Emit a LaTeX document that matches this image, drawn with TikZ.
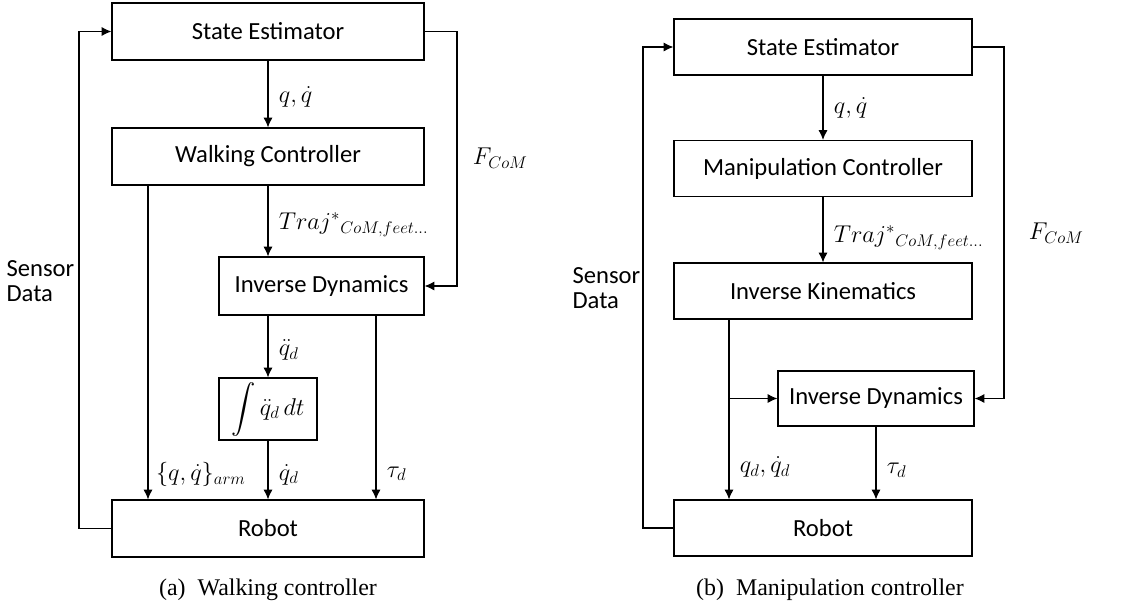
\documentclass[tikz,border=0pt]{standalone}
\usepackage{exscale}
\usepackage{fontspec}
\setmainfont{Liberation Serif}
\newfontfamily\boxfont{Carlito}
\usetikzlibrary{arrows.meta}

\begin{document}
\begin{tikzpicture}[> = {Latex[length = 7pt, width = 6.5pt]}, x = 0.025cm, y = -0.025cm, line width = 0.8pt,
	block/.style = {draw, rectangle, inner sep = 0pt, font = \boxfont\fontsize{17.5}{21}\selectfont},
	wide/.style = {block, minimum width = 7.8cm, minimum height = 1.425cm},
	lbl/.style = {right, xshift = 4pt, font = \fontsize{17.5}{21}\selectfont},
	caption/.style = {font = \fontsize{17}{20}\selectfont}]

	\useasboundingbox (0, 0) rectangle (1128, 612);

	% (a) Walking controller

	\node [wide] (se_a) at (268, 31.5) {State Estimator};
	\node [wide] (wc_a) at (268, 156.5) {Walking Controller};
	\node [block, minimum width = 5.125cm, minimum height = 1.45cm] (id_a) at (321.5, 286) {Inverse Dynamics};
	\node [block, minimum width = 2.45cm, minimum height = 1.55cm] (int_a) at (268, 409) {$\displaystyle\int \ddot{q}_d\,dt$};
	\node [wide] (rob_a) at (268, 528.5) {Robot};

	\coordinate (sens_a) at (79, 0);
	\coordinate (arm_a) at (148, 0);
	\coordinate (tau_a) at (376, 0);
	\coordinate (f_a) at (457, 0);

	\begin{scope}[->]

		\draw (se_a) -- node [lbl, pos = 0.54] {$q, \dot{q}$} (wc_a);
		\draw (wc_a.south) -- node [lbl, pos = 0.55] {$Traj^{*}{}_{CoM,feet\ldots}$} (wc_a.south |- id_a.north);
		\draw (id_a.south -| int_a) -- node [lbl, pos = 0.56] {$\ddot{q}_d$} (int_a);
		\draw (int_a) -- node [lbl, pos = 0.58] {$\dot{q}_d$} (rob_a);
		\draw (wc_a.south -| arm_a) -- node [lbl, pos = 0.92, xshift = -2pt] {$\{q, \dot{q}\}_{arm}$} (rob_a.north -| arm_a);
		\draw (id_a.south -| tau_a) -- node [lbl, pos = 0.86] {$\tau_d$} (rob_a.north -| tau_a);

		\draw (rob_a.west) -- (sens_a |- rob_a.west) -- (sens_a |- se_a.west) -- (se_a.west);
		\draw (se_a.east) -- (f_a |- se_a.east) -- (f_a |- id_a.east) -- (id_a.east);

	\end{scope}

	\node [block, draw = none, align = left, anchor = west] (sd_a) at (6, 281) {Sensor\\[-3pt]Data};
	\node [lbl, anchor = west] (fc_a) at (462, 158) {$F_{CoM}$};
	\node [caption] (cap_a) at (268, 590) {(a)\hspace{0.5em}Walking controller};

	% (b) Manipulation controller

	\node [block, minimum width = 7.45cm, minimum height = 1.4cm] (se_b) at (823, 47) {State Estimator};
	\node [block, minimum width = 7.45cm, minimum height = 1.4cm] (mc_b) at (823, 168.5) {Manipulation Controller};
	\node [block, minimum width = 7.45cm, minimum height = 1.4cm] (ik_b) at (823, 291) {Inverse Kinematics};
	\node [block, minimum width = 4.9cm, minimum height = 1.375cm] (id_b) at (876, 398.5) {Inverse Dynamics};
	\node [block, minimum width = 7.45cm, minimum height = 1.4cm] (rob_b) at (823, 528) {Robot};

	\coordinate (sens_b) at (643, 0);
	\coordinate (qd_b) at (729, 0);
	\coordinate (f_b) at (1004, 0);

	\begin{scope}[->]

		\draw (se_b) -- node [lbl, pos = 0.5] {$q, \dot{q}$} (mc_b);
		\draw (mc_b) -- node [lbl, pos = 0.62] {$Traj^{*}{}_{CoM,feet\ldots}$} (ik_b);
		\draw (ik_b.south -| qd_b) -- node [lbl, pos = 0.82] {$q_d, \dot{q}_d$} (rob_b.north -| qd_b);
		\draw (id_b.west -| qd_b) -- (id_b.west);
		\draw (id_b.south) -- node [lbl, pos = 0.6] {$\tau_d$} (id_b.south |- rob_b.north);

		\draw (rob_b.west) -- (sens_b |- rob_b.west) -- (sens_b |- se_b.west) -- (se_b.west);
		\draw (se_b.east) -- (f_b |- se_b.east) -- (f_b |- id_b.east) -- (id_b.east);

	\end{scope}

	\node [block, draw = none, align = left, anchor = west] (sd_b) at (572, 288) {Sensor\\[-3pt]Data};
	\node [lbl, anchor = west] (fc_b) at (1018, 233) {$F_{CoM}$};
	\node [caption] (cap_b) at (830, 590) {(b)\hspace{0.5em}Manipulation controller};

\end{tikzpicture}
\end{document}
